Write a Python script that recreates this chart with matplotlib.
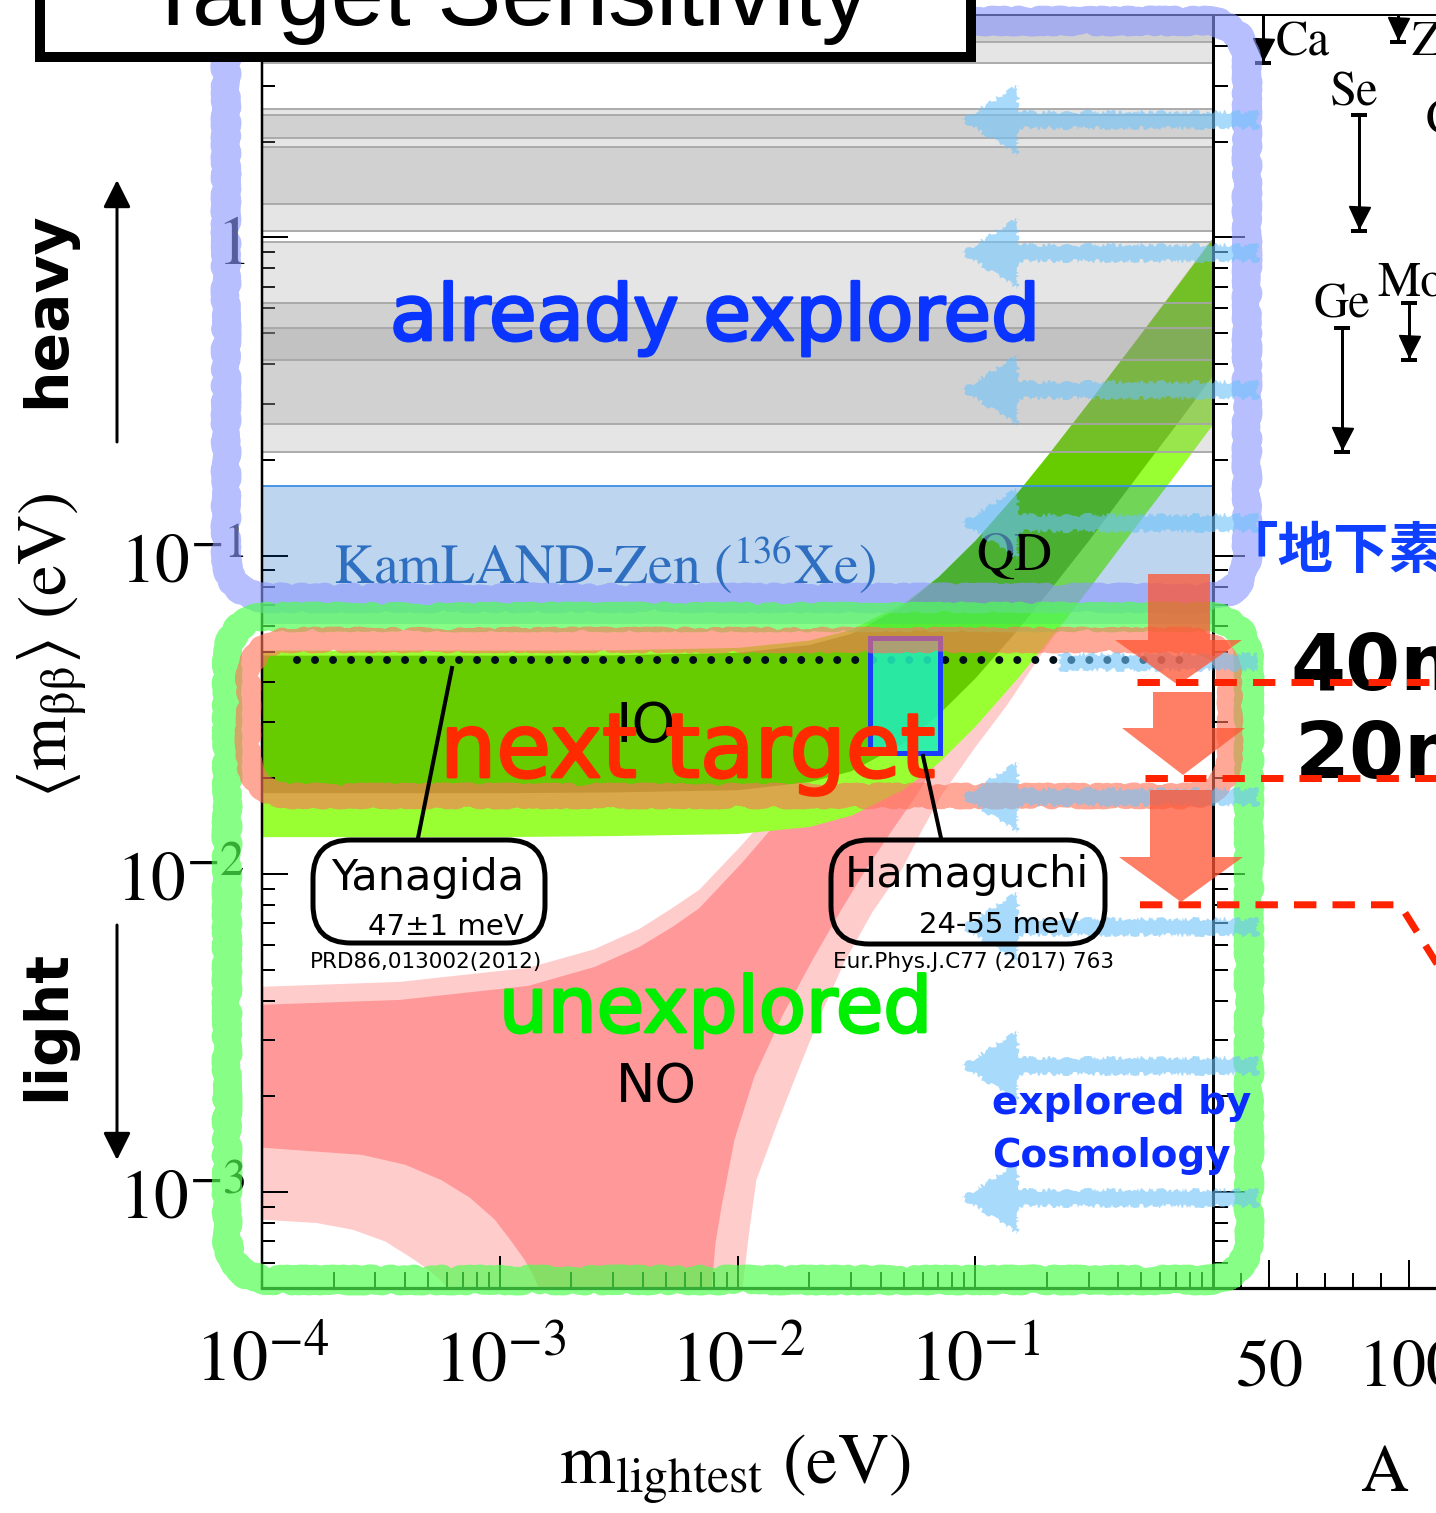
import matplotlib
matplotlib.use("Agg")
import matplotlib.pyplot as plt
import matplotlib.patheffects as pe
import matplotlib.transforms as mtrans
from matplotlib.patches import FancyBboxPatch, Polygon, Rectangle
from matplotlib.ticker import (FixedLocator, FixedFormatter, LogLocator,
                               NullFormatter, MultipleLocator)

plt.rcParams["mathtext.fontset"] = "stix"
plt.rcParams["font.family"] = ["DejaVu Sans", "Noto Sans CJK JP"]

# ---------------- data ----------------
# past 0vbb limits on <m_bb> (eV), drawn as grey bands
limit_lo = [3.54, 4.1, 1.05, 2.06, 1.27, 0.259, 0.411, 0.211]
limit_hi = [30.0, 30.0, 2.42, 2.54, 1.93, 0.971, 0.621, 0.518]
# KamLAND-Zen (136Xe) band (eV)
kamland_lo, kamland_hi = 0.061, 0.165

# inverted ordering band: m_lightest vs <m_bb> (eV)
io_m = [1e-4, 1e-3, 3e-3, 0.01, 0.02, 0.03, 0.05, 0.07, 0.1, 0.15, 0.2, 0.3, 0.5, 0.7, 1.0]
io_light_hi = [0.0505, 0.0505, 0.0506, 0.0515, 0.0543, 0.0587, 0.0711, 0.0863, 0.112,
               0.158, 0.206, 0.304, 0.502, 0.70, 1.0]
io_light_lo = [0.0131, 0.0131, 0.0132, 0.0134, 0.0141, 0.0153, 0.0185, 0.0224, 0.0292,
               0.0412, 0.0536, 0.079, 0.131, 0.182, 0.26]
io_dark_hi = [0.0487, 0.0487, 0.0488, 0.0497, 0.0526, 0.057, 0.070, 0.086, 0.112,
              0.158, 0.206, 0.304, 0.502, 0.70, 1.0]
io_dark_lo = [0.0180, 0.0180, 0.0181, 0.0184, 0.0195, 0.0211, 0.0259, 0.0318, 0.0414,
              0.0585, 0.0762, 0.112, 0.186, 0.259, 0.37]

# normal ordering region outlines (m_lightest, <m_bb>) in eV:
# upper edge, then right-hand lower edge, then left-hand lower edge
no_light_m = [1e-4, 3.8e-4, 1.32e-3, 2.5e-3, 3.87e-3, 5.3e-3, 6.9e-3, 0.0104, 0.0182, 0.03,
              0.05, 0.1, 0.3, 1.0,
              1.0, 0.3, 0.2, 0.136, 0.1, 0.0726, 0.06, 0.0493, 0.037, 0.0282, 0.022, 0.0177,
              0.0145, 0.0120, 0.0112, 0.0105, 0.0098,
              6.5e-4, 6.05e-4, 5.6e-4, 5.0e-4, 4.36e-4, 3.3e-4, 2.41e-4, 1.7e-4, 1e-4]
no_light_v = [0.00442, 0.00458, 0.00507, 0.0058, 0.00672, 0.0078, 0.00891, 0.0123, 0.0197, 0.031,
              0.051, 0.1, 0.3, 1.0,
              0.26, 0.079, 0.052, 0.0339, 0.025, 0.0178, 0.0138, 0.01037, 0.0076, 0.0053, 0.0035,
              0.00234, 0.0016, 0.00109, 0.00075, 0.0005, 0.0001,
              0.0001, 0.0005, 0.000531, 0.00057, 0.000614, 0.0007, 0.000762, 0.0008, 0.00082]
no_dark_m = [1e-4, 3.8e-4, 1.32e-3, 2.5e-3, 3.87e-3, 5.3e-3, 6.9e-3, 0.0104, 0.0182, 0.03,
             0.05, 0.1, 0.3, 1.0,
             1.0, 0.3, 0.1, 0.057, 0.045, 0.0348, 0.027, 0.0205, 0.0155, 0.01178, 0.00971,
             0.00857, 0.0081, 0.00778, 0.0073,
             1.6e-3, 1.46e-3, 1.38e-3, 1.27e-3, 1.12e-3, 9.53e-4, 7.5e-4, 5.7e-4, 4e-4, 2.63e-4, 1e-4]
no_dark_v = [0.00388, 0.00402, 0.00445, 0.0051, 0.0059, 0.0068, 0.0078, 0.0108, 0.0175, 0.029,
             0.048, 0.097, 0.29, 0.97,
             0.37, 0.11, 0.035, 0.0178, 0.0138, 0.01037, 0.0076, 0.0053, 0.0036, 0.00231, 0.00146,
             0.0009, 0.0007, 0.0005, 0.0001,
             0.0001, 0.0005, 0.00055, 0.000614, 0.0007, 0.00082, 0.00096, 0.00109, 0.00122,
             0.00131, 0.00138]

# model predictions
yanagida_mbb = 0.047            # 47 +- 1 meV
yanagida_m = [1.4e-4, 0.85]
hamaguchi_mbb = [0.024, 0.055]  # 24-55 meV
hamaguchi_m = [0.0362, 0.0713]

# sensitivity goals (eV)
goal_40, goal_20, goal_8 = 0.040, 0.020, 0.008

# isotope limits shown versus mass number A
iso_name = ["Ca", "Ge", "Se", "Zr", "Mo", "Cd"]
iso_A = [48, 76, 82, 96, 100, 116]
iso_hi = [30.0, 0.518, 2.42, 30.0, 0.621, 1.93]
iso_lo = [3.54, 0.211, 1.05, 4.1, 0.411, 1.27]

xtick_vals = [1e-4, 1e-3, 1e-2, 1e-1, 1.0]
xtick_labels = ["$10^{-4}$", "$10^{-3}$", "$10^{-2}$", "$10^{-1}$", ""]
ytick_vals = [1e-3, 1e-2, 1e-1, 1.0]
ytick_labels = ["$10^{-3}$", "$10^{-2}$", "$10^{-1}$", "$1$"]
a_ticks = [50, 100, 150]
a_labels = ["$50$", "$100$", "$150$"]

# ---------------- layout ----------------
W, H, DPI = 1436, 1513, 100
PT = 72.0 / DPI  # points per pixel
fig = plt.figure(figsize=(W / DPI, H / DPI), dpi=DPI)
fig.patch.set_facecolor("white")


def fbox(x0, y0, x1, y1):
    return [x0 / W, 1 - y1 / H, (x1 - x0) / W, (y1 - y0) / H]


ax = fig.add_axes(fbox(262, 15, 1213, 1288))
axr = fig.add_axes(fbox(1213, 15, 1577, 1288))
ov = fig.add_axes([0, 0, 1, 1], zorder=10)
ov.set_xlim(0, W)
ov.set_ylim(H, 0)
ov.set_facecolor("none")
ov.axis("off")

# ---------------- main panel ----------------
ax.set_xscale("log")
ax.set_yscale("log")
ax.set_xlim(1e-4, 1.0)
ax.set_ylim(5e-4, 5.0)

ax.fill(no_light_m, no_light_v, color="#ffcccc", lw=0, zorder=1.0)
ax.fill(no_dark_m, no_dark_v, color="#ff9999", lw=0, zorder=1.1)
ax.fill_between(io_m, io_light_lo, io_light_hi, color="#99ff33", lw=0, zorder=1.2)
ax.fill_between(io_m, io_dark_lo, io_dark_hi, color="#66cc00", lw=0, zorder=1.3)

for lo, hi in zip(limit_lo, limit_hi):
    ax.axhspan(lo, hi, color=(0.6, 0.6, 0.6), alpha=0.255, lw=0, zorder=2.0)
    for edge in (lo, hi):
        ax.axhline(edge, color="#a6a6a6", lw=1.3, zorder=2.1)
ax.axhspan(kamland_lo, kamland_hi, color=(0.0, 0.376, 0.753), alpha=0.26, lw=0, zorder=2.0)
ax.axhline(kamland_hi, color="#3d8ee6", lw=1.3, zorder=2.1)

ax.plot(yanagida_m, [yanagida_mbb] * 2, color="#001018", lw=8 * PT,
        dashes=(0.001, 2.25), dash_capstyle="round", zorder=2.5)
ax.add_patch(Rectangle((hamaguchi_m[0], hamaguchi_mbb[0]),
                       hamaguchi_m[1] - hamaguchi_m[0],
                       hamaguchi_mbb[1] - hamaguchi_mbb[0],
                       fc=(0.13, 0.93, 0.73, 0.88), ec="#1a3cff", lw=5 * PT, zorder=2.6))

ax.xaxis.set_major_locator(FixedLocator(xtick_vals))
ax.xaxis.set_major_formatter(FixedFormatter(xtick_labels))
ax.xaxis.set_minor_locator(LogLocator(base=10, subs=range(2, 10), numticks=20))
ax.xaxis.set_minor_formatter(NullFormatter())
ax.yaxis.set_major_locator(FixedLocator(ytick_vals))
ax.yaxis.set_major_formatter(FixedFormatter(ytick_labels))
ax.yaxis.set_minor_locator(LogLocator(base=10, subs=range(2, 10), numticks=20))
ax.yaxis.set_minor_formatter(NullFormatter())
ax.tick_params(axis="x", which="major", direction="in", length=32 * PT, width=2 * PT,
               top=False, labelsize=52, pad=28)
ax.tick_params(axis="x", which="minor", direction="in", length=16 * PT, width=2 * PT, top=False)
ax.tick_params(axis="y", which="major", direction="in", length=26 * PT, width=2 * PT,
               right=False, labelsize=50, pad=12)
ax.tick_params(axis="y", which="minor", direction="in", length=13 * PT, width=2 * PT, right=False)
ax.spines["right"].set_visible(False)
ax.spines["left"].set_linewidth(2.5 * PT)
ax.spines["bottom"].set_linewidth(3.2 * PT)
ax.spines["top"].set_linewidth(2 * PT)

# ---------------- isotope panel ----------------
axr.set_yscale("log")
axr.set_ylim(5e-4, 5.0)
axr.set_xlim(30, 160)
axr.xaxis.set_major_locator(FixedLocator(a_ticks))
axr.xaxis.set_major_formatter(FixedFormatter(a_labels))
axr.xaxis.set_minor_locator(MultipleLocator(10))
axr.yaxis.set_major_locator(FixedLocator(ytick_vals))
axr.yaxis.set_major_formatter(NullFormatter())
axr.yaxis.set_minor_locator(LogLocator(base=10, subs=range(2, 10), numticks=20))
axr.yaxis.set_minor_formatter(NullFormatter())
axr.tick_params(axis="y", which="major", direction="in", length=32 * PT, width=2 * PT,
                left=True, right=False, labelleft=False)
axr.tick_params(axis="y", which="minor", direction="in", length=15 * PT, width=2 * PT,
                left=True, right=False)
axr.tick_params(axis="x", which="major", direction="in", length=28 * PT, width=2 * PT,
                top=False, labelsize=49, pad=33)
axr.tick_params(axis="x", which="minor", direction="in", length=15 * PT, width=2 * PT, top=False)
axr.spines["left"].set_linewidth(3 * PT)
axr.spines["bottom"].set_linewidth(3.2 * PT)
axr.spines["top"].set_linewidth(2 * PT)

head_tr = mtrans.offset_copy(axr.transData, fig=fig, y=14, units="dots")
label_shift = {"Ca": (12, 7, "left", "lo"), "Zr": (14, -13, "left", "lo"),
               "Ge": (0, 11, "center", "hi"), "Se": (-4, 10, "center", "hi"),
               "Mo": (2, 8, "center", "hi"), "Cd": (0, 13, "center", "hi")}
for name, A, hi, lo in zip(iso_name, iso_A, iso_hi, iso_lo):
    axr.plot([A, A], [hi, lo], color="k", lw=3 * PT, zorder=3)
    axr.plot([A, A], [hi, lo], ls="none", marker="_", ms=16 * PT, mew=4 * PT,
             color="k", zorder=3)
    axr.plot([A], [lo], ls="none", marker="v", ms=21 * PT, color="k",
             transform=head_tr, zorder=3)
    dx, dy, ha, ref = label_shift[name]
    tr = mtrans.offset_copy(axr.transData, fig=fig, x=dx, y=dy, units="dots")
    axr.text(A, hi if ref == "hi" else lo, name, transform=tr, ha=ha, va="baseline",
             fontsize=35, family="STIXGeneral", zorder=4)

# ---------------- overlay: labels, notes, hand-drawn marks ----------------
serif = "STIXGeneral"
ov.text(52, 645, r"$\langle\mathrm{m}_{\mathrm{\beta\beta}}\rangle$ (eV)", rotation=90,
        ha="center", va="center", fontsize=50, family=serif)
ov.text(735, 1469, r"$\mathrm{m}_{\mathrm{lightest}}$ (eV)", ha="center", va="center",
        fontsize=51, family=serif)
ov.text(1385, 1491, "A", ha="center", va="baseline", fontsize=48, family=serif)

ov.text(48, 310, "heavy", rotation=90, ha="center", va="center", fontsize=42, weight="bold")
ov.text(48, 1025, "light", rotation=90, ha="center", va="center", fontsize=42, weight="bold")
ov.annotate("", xy=(117, 180), xytext=(117, 442),
            arrowprops=dict(arrowstyle="-|>", lw=3 * PT, color="k", mutation_scale=42,
                            shrinkA=0, shrinkB=0))
ov.annotate("", xy=(117, 1160), xytext=(117, 925),
            arrowprops=dict(arrowstyle="-|>", lw=3 * PT, color="k", mutation_scale=42,
                            shrinkA=0, shrinkB=0))

ov.text(333, 583, r"KamLAND-Zen ($^{136}$Xe)", ha="left", va="baseline", fontsize=40,
        family=serif, color="#2f6fc2", zorder=3)
ov.text(976, 570, "QD", ha="left", va="baseline", fontsize=38, family=serif, zorder=3)
ov.text(646, 742, "IO", ha="center", va="baseline", fontsize=40, zorder=3)
ov.text(656, 1102, "NO", ha="center", va="baseline", fontsize=38, zorder=3)


def thick(color, w=2.0):
    return [pe.withStroke(linewidth=w, foreground=color)]


def hand(p, scale=2.5, length=30, rnd=40):
    p.set_sketch_params(scale=scale, length=length, randomness=rnd)
    return p


# hand-drawn frames
for (x0, y0, x1, y1, col, lw, al, z) in [
        (226, 21, 1247, 598, (0.55, 0.60, 1.0), 26, 0.62, 2),
        (227, 617, 1249, 1280, (0.31, 1.0, 0.31), 26, 0.68, 2),
        (248, 640, 1230, 796, (1.0, 0.45, 0.35), 22, 0.62, 3)]:
    ov.add_patch(hand(FancyBboxPatch((x0, y0), x1 - x0, y1 - y0,
                                     boxstyle="round,pad=0,rounding_size=45",
                                     fc="none", ec=col, lw=lw * PT, alpha=al, zorder=z,
                                     joinstyle="round")))

ov.text(390, 340, "already explored", ha="left", va="baseline", fontsize=55.7,
        color="#0a34ff", zorder=6, path_effects=thick("#0a34ff"))
ov.text(440, 777, "next target", ha="left", va="baseline", fontsize=64,
        color="#ff2a00", zorder=6, path_effects=thick("#ff2a00"))
ov.text(499, 1032, "unexplored", ha="left", va="baseline", fontsize=55.5,
        color="#00ee00", zorder=6, path_effects=thick("#00ee00"))
ov.text(992, 1114, "explored by", ha="left", va="baseline", fontsize=28, weight="bold",
        color="#0a2cff", zorder=6)
ov.text(992, 1167, "Cosmology", ha="left", va="baseline", fontsize=28, weight="bold",
        color="#0a2cff", zorder=6)

# cosmology arrows pointing to lighter masses
cosmo_rows = [120, 253, 390, 523, 797, 927, 1066, 1198]
for yy in cosmo_rows:
    verts = [(962, yy), (1018, yy - 35), (1018, yy - 8), (1258, yy - 8), (1258, yy + 8),
             (1018, yy + 8), (1018, yy + 35)]
    ov.add_patch(hand(Polygon(verts, closed=True, fc=(0.43, 0.76, 0.98), ec="none",
                              alpha=0.6, zorder=4), scale=2, length=20))
ov.add_patch(hand(Rectangle((1060, 654), 198, 16, fc=(0.43, 0.76, 0.98), ec="none",
                            alpha=0.6, zorder=4), scale=2, length=20))

# downward steps towards the next goals
for (x0, x1, y0, yh, xl, xr, xt, yt) in [
        (1148, 1210, 574, 640, 1115, 1242, 1178, 685),
        (1153, 1212, 692, 728, 1122, 1245, 1183, 775),
        (1150, 1212, 790, 857, 1119, 1243, 1181, 902)]:
    verts = [(x0, y0), (x1, y0), (x1, yh), (xr, yh), (xt, yt), (xl, yh), (x0, yh)]
    ov.add_patch(Polygon(verts, closed=True, fc=(1.0, 0.33, 0.2), ec="none",
                         alpha=0.75, zorder=5))

ov.text(1290, 690, "40meV", ha="left", va="baseline", fontsize=57, weight="bold", zorder=6)
ov.text(1295, 778, "20meV", ha="left", va="baseline", fontsize=57, weight="bold", zorder=6)
ov.text(1222, 568, "「地下素粒子」", ha="left", va="baseline", fontsize=40, weight="bold",
        color="#1040ff", family=["Noto Sans CJK JP", "DejaVu Sans"], zorder=6)

goal_tr = mtrans.blended_transform_factory(ov.transData, ax.transData)
dash_kw = dict(color="#ff2200", lw=7 * PT, dashes=(3.2, 2.3), transform=goal_tr,
               clip_on=False, zorder=7, solid_capstyle="butt", dash_capstyle="butt")
ov.plot([1137, 1450], [goal_40, goal_40], **dash_kw)
ov.plot([1145, 1450], [goal_20, goal_20], **dash_kw)
ov.plot([1140, 1400, 1460], [goal_8, goal_8, goal_8 / 2], **dash_kw)

# model callouts
box_kw = dict(boxstyle="round,pad=0,rounding_size=38", fc="none", ec="k", lw=5 * PT, zorder=6)
ov.add_patch(FancyBboxPatch((313, 840), 232, 103, **box_kw))
ov.add_patch(FancyBboxPatch((831, 840), 274, 104, **box_kw))
ov.plot([418, 452], [838, 668], color="k", lw=4 * PT, zorder=6)
ov.plot([941, 923], [838, 756], color="k", lw=4 * PT, zorder=6)
ov.text(428, 890, "Yanagida", ha="center", va="baseline", fontsize=31, zorder=6)
ov.text(524, 935, "47±1 meV", ha="right", va="baseline", fontsize=21, zorder=6)
ov.text(310, 968, "PRD86,013002(2012)", ha="left", va="baseline", fontsize=15.5, zorder=6)
ov.text(967, 887, "Hamaguchi", ha="center", va="baseline", fontsize=31, zorder=6)
ov.text(1079, 933, "24-55 meV", ha="right", va="baseline", fontsize=21, zorder=6)
ov.text(833, 968, "Eur.Phys.J.C77 (2017) 763", ha="left", va="baseline", fontsize=15.5,
        zorder=6)

# title box
ov.add_patch(Rectangle((40, -80), 931, 137, fc="white", ec="k", lw=10 * PT, zorder=20))
ov.text(507, 25, "Target Sensitivity", ha="center", va="baseline", fontsize=69,
        family="Liberation Sans", zorder=21)

fig.savefig("out.png", dpi=DPI)
